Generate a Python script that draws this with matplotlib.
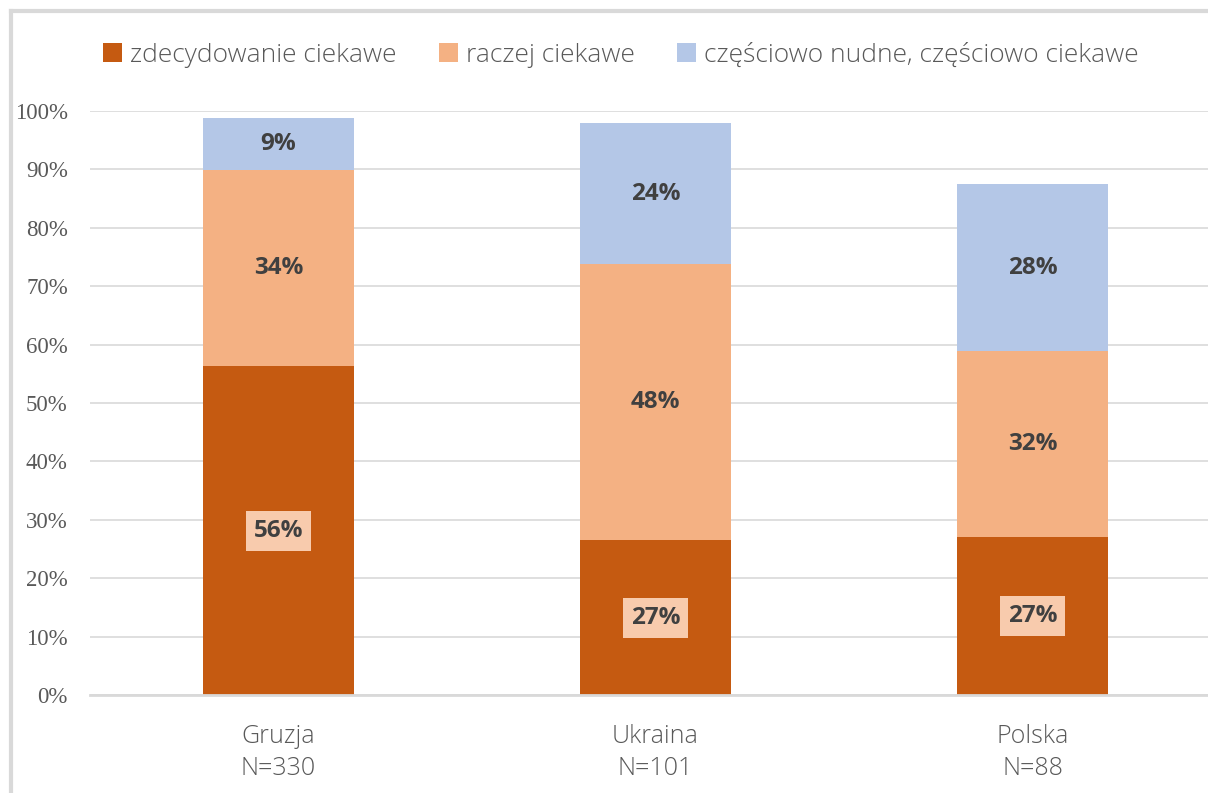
import numpy as np
import matplotlib.pyplot as plt
from matplotlib.lines import Line2D

categories = ['Gruzja\nN=330', 'Ukraina\nN=101', 'Polska\nN=88']
series_names = ['zdecydowanie ciekawe', 'raczej ciekawe',
                'częściowo nudne, częściowo ciekawe']
zdecydowanie = [56.3, 26.5, 27.1]
raczej = [33.6, 47.3, 31.8]
czesciowo = [8.9, 24.1, 28.6]
labels_z = ['56%', '27%', '27%']
labels_r = ['34%', '48%', '32%']
labels_c = ['9%', '24%', '28%']

colors = ['#C55A11', '#F4B183', '#B4C7E7']

W, H = 1208, 793
fig = plt.figure(figsize=(W / 100, H / 100), dpi=100)
ax = fig.add_axes([90 / W, (H - 695) / H, (W - 90) / W, 584 / H])

x = np.arange(len(categories))
bw = 0.398
bottoms = np.zeros(len(categories))
for vals, lbls, col, name in zip([zdecydowanie, raczej, czesciowo],
                                 [labels_z, labels_r, labels_c],
                                 colors, series_names):
    vals = np.array(vals)
    ax.bar(x, vals, bw, bottom=bottoms, color=col, label=name, zorder=2)
    for xi, b, v, t in zip(x, bottoms, vals, lbls):
        kw = dict(ha='center', va='center', fontsize=17.5, fontweight='bold',
                  color='#404040', family='Open Sans', zorder=3)
        if col == '#C55A11':
            kw['bbox'] = dict(boxstyle='square,pad=0.33', fc='#F8CBAD', ec='none')
        ax.text(xi, b + v / 2, t, **kw)
    bottoms = bottoms + vals

ax.set_xlim(-0.5, (W - 90) / 377 - 0.5)
ax.set_ylim(0, 100)
ax.set_yticks(np.arange(0, 101, 10))
ax.set_yticklabels([f'{v}%' for v in range(0, 101, 10)],
                   family='Liberation Serif', fontsize=16.5, color='#595959')
ax.set_xticks(x)
ax.set_xticklabels(categories, family='Open Sans', fontsize=18,
                   fontweight='light', color='#595959', linespacing=1.38)
ax.tick_params(axis='both', length=0)
ax.tick_params(axis='x', pad=21)
ax.tick_params(axis='y', pad=16)
ax.grid(axis='y', color='#D9D9D9', linewidth=1.2, zorder=0)
for s in ['top', 'right', 'left']:
    ax.spines[s].set_visible(False)
ax.spines['bottom'].set_color('#D9D9D9')
ax.spines['bottom'].set_linewidth(2)

leg = fig.legend(loc='center', bbox_to_anchor=(0.514, 1 - 55 / H), ncol=3,
                 frameon=False, handlelength=0.72, handleheight=0.72,
                 handletextpad=0.3, columnspacing=1.6,
                 prop={'family': 'Open Sans', 'size': 19, 'weight': 'light'})
for t in leg.get_texts():
    t.set_color('#595959')

# chart area border (only top and left edges fall inside the image)
fig.add_artist(Line2D([11 / W, 11 / W], [0, 1 - 11 / H], transform=fig.transFigure,
                      color='#D9D9D9', lw=3))
fig.add_artist(Line2D([11 / W, 1], [1 - 11 / H, 1 - 11 / H], transform=fig.transFigure,
                      color='#D9D9D9', lw=3))

fig.savefig('out.png', dpi=100)
